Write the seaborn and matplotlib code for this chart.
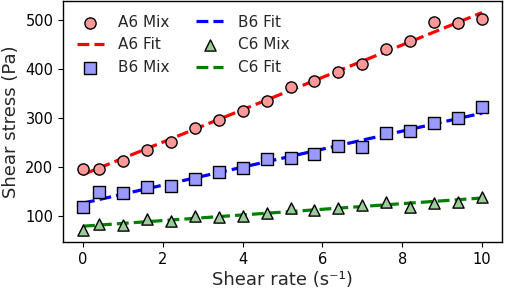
import numpy as np
import pandas as pd
import matplotlib
matplotlib.use("Agg")
import matplotlib.pyplot as plt
import seaborn as sns

shear_rate = [0, 0.4, 1.0, 1.6, 2.2, 2.8, 3.4, 4.0, 4.6, 5.2, 5.8, 6.4, 7.0, 7.6, 8.2, 8.8, 9.4, 10.0]
a6_mix = [196, 196, 211, 235, 251, 279, 296, 313, 333, 362, 375, 393, 410, 439, 457, 494, 492, 501]
b6_mix = [118, 149, 147, 159, 160, 176, 189, 197, 215, 217, 226, 242, 240, 269, 272, 290, 299, 322]
c6_mix = [71, 84, 82, 93, 90, 99, 98, 99, 105, 117, 112, 115, 122, 128, 119, 126, 129, 139]
series_names = ["A6", "B6", "C6"]
line_colors = ["red", "blue", "green"]
face_colors = ["#ff9999", "#9999ff", "#99cc99"]
markers = ["o", "s", "^"]

sns.set_style("ticks")
plt.rcParams['font.family'] = ['DejaVu Sans']

fig = plt.figure(figsize=(5.05, 2.90), dpi=100)
ax = fig.add_axes([0.125, 0.166, 0.869, 0.831])

x = np.array(shear_rate)
for name, ys, lc, fc, mk in zip(series_names, [a6_mix, b6_mix, c6_mix], line_colors, face_colors, markers):
    ys = np.array(ys)
    sns.scatterplot(x=x, y=ys, ax=ax, marker=mk, s=65, color=fc, edgecolor="black",
                    linewidth=1.0, label=f"{name} Mix", zorder=3)
    k, b = np.polyfit(x, ys, 1)
    fit = k * x + b
    sns.lineplot(x=x, y=fit, ax=ax, color=lc, linestyle="--", linewidth=2.3,
                 label=f"{name} Fit", zorder=2)

ax.set_xlim(-0.5, 10.5)
ax.set_ylim(47, 538)
ax.set_xticks([0, 2, 4, 6, 8, 10])
ax.set_yticks([100, 200, 300, 400, 500])
ax.tick_params(labelsize=10.5, colors="black")
for sp in ax.spines.values():
    sp.set_visible(True)
    sp.set_color("black")
    sp.set_linewidth(1.0)
ax.set_xlabel("Shear rate (s⁻¹)", fontsize=13, labelpad=3)
ax.set_ylabel("Shear stress (Pa)", fontsize=13)
ax.legend(ncol=2, loc="upper left", frameon=False, fontsize=11, columnspacing=1.75,
          handlelength=1.75, handletextpad=0.95, borderaxespad=0.5)

fig.savefig("out.png", dpi=100)
